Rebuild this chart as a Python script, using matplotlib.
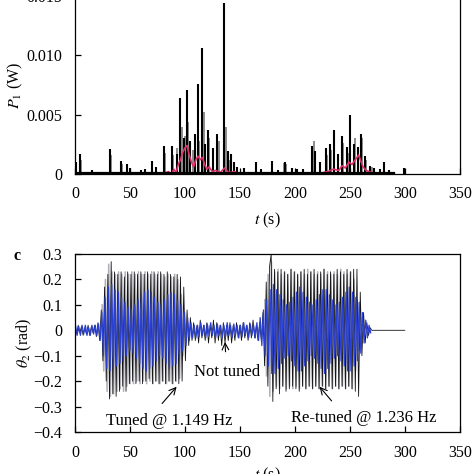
import numpy as np
import matplotlib
matplotlib.use('Agg')
import matplotlib.pyplot as plt
from matplotlib.ticker import FixedLocator, FixedFormatter

plt.rcParams['font.family'] = ['Liberation Serif', 'DejaVu Serif']
plt.rcParams['mathtext.fontset'] = 'stix'

# ---- panel b: power P1 ----
spk_t = [1, 4.5, 16, 31.8, 41.5, 47, 50, 60, 64, 69.7,
         74, 81.2, 87.9, 92.4, 96, 99, 101.5, 105, 109, 111.8,
         115.8, 118, 121.2, 125.8, 129, 135.5, 139.6, 142.4, 145, 147,
         154, 164.5, 169, 178.8, 185, 191, 197, 202, 207, 216,
         218.5, 223, 228.8, 231.8, 236, 239.4, 242.7, 247, 250.6, 253.6,
         257, 260, 263.6, 268, 272, 277, 281, 286, 299.7]
spk_h = [0.0010, 0.0017, 0.0003, 0.0021, 0.0011, 0.0008, 0.0005, 0.0003, 0.0004, 0.0011,
         0.0006, 0.0024, 0.0024, 0.0017, 0.0064, 0.0030, 0.0071, 0.0028, 0.0034, 0.0076,
         0.0106, 0.0025, 0.0037, 0.0022, 0.0034, 0.0144, 0.0019, 0.0017, 0.0010, 0.0006,
         0.0005, 0.0010, 0.0004, 0.0011, 0.0003, 0.0010, 0.0005, 0.0004, 0.0004, 0.0024,
         0.0019, 0.0010, 0.0022, 0.0025, 0.0037, 0.0017, 0.0032, 0.0023, 0.0050, 0.0025,
         0.0023, 0.0034, 0.0015, 0.0007, 0.0005, 0.0004, 0.0010, 0.0003, 0.0005]
gspk_t = [5.5, 32.5, 43, 82, 89, 93, 97, 100, 103, 107,
          113, 117, 122, 131, 137, 141, 190, 192, 217, 229,
          233, 244, 249, 255, 261, 265, 270]
gspk_h = [0.0012, 0.0016, 0.0008, 0.0018, 0.0016, 0.0022, 0.0040, 0.0032, 0.0044, 0.0020,
          0.0028, 0.0052, 0.0030, 0.0028, 0.0040, 0.0012, 0.0009, 0.0008, 0.0028, 0.0016,
          0.0020, 0.0026, 0.0018, 0.0030, 0.0030, 0.0012, 0.0006]
pink_t = [0, 80, 85, 88, 90, 92, 94, 96, 98, 100, 102, 104, 106, 108, 110, 112, 114, 116, 118, 120,
          122, 125, 128, 132, 136, 140, 145, 150, 200, 220, 230, 235, 240, 243, 246, 249, 252, 255,
          258, 260, 262, 265, 270, 280, 290]
pink_v = [0, 0, 0.0002, 0, 0.0004, 0.0001, 0.0008, 0.0012, 0.0018, 0.0022,
          0.0024, 0.0016, 0.0010, 0.0006, 0.0012, 0.0015, 0.0012, 0.0014, 0.0008, 0.0004,
          0.0006, 0.0002, 0.0003, 0.0001, 0.0005, 0.0001, 0.0002, 0, 0, 0,
          0.0002, 0.0004, 0.0003, 0.0007, 0.0005, 0.0010, 0.0008, 0.0012, 0.0016, 0.0011,
          0.0006, 0.0003, 0.0001, 0, 0]
base_t = [0, 290]
base_p = [0.0001, 0.0001]

# ---- panel c: theta2, samples every 1.5 s ----
theta_black = (
    [0.01, -0.015, 0.02, -0.01, 0.015, -0.02, 0.01, -0.015, 0.02, -0.02, 0.015, -0.01, 0.02, -0.025, 0.03]
    + [-0.04, 0.08, -0.12, 0.17, -0.2]
    + [0.22, -0.27, 0.27, -0.25, 0.23, -0.26, 0.22, -0.24, 0.23, -0.22,
       0.21, -0.24, 0.23, -0.21, 0.22, -0.2, 0.23, -0.21, 0.22, -0.2,
       0.23, -0.21, 0.22, -0.2, 0.23, -0.19, 0.22, -0.21, 0.23, -0.2,
       0.22, -0.21, 0.23, -0.2, 0.22, -0.21, 0.23, -0.2, 0.22, -0.21,
       0.21, -0.2, 0.22, -0.21, 0.21, -0.2, 0.17]
    + [-0.12, 0.08, -0.06, 0.05, -0.04]
    + [0.03, -0.04, 0.02, -0.05, 0.04, -0.03, 0.02, -0.04, 0.03, -0.05,
       0.02, -0.03, 0.04, -0.05, 0.03, -0.04, 0.02, -0.06, 0.03, -0.05,
       0.02, -0.04, 0.03, -0.05, 0.02, -0.04, 0.03, -0.03, 0.02, -0.04,
       0.03, -0.03, 0.02, -0.04, 0.03, -0.03, 0.04, -0.03, 0.02, -0.04,
       0.03, -0.04]
    + [0.07, -0.14, 0.19, -0.22, 0.25]
    + [0.30, -0.28]
    + [0.24, -0.23, 0.23, -0.25, 0.24, -0.22, 0.23, -0.24, 0.22, -0.23,
       0.24, -0.22, 0.23, -0.23, 0.22, -0.24, 0.23, -0.22, 0.24, -0.23,
       0.22, -0.22, 0.23, -0.23, 0.24, -0.22, 0.22, -0.23, 0.23, -0.22,
       0.24, -0.23, 0.22, -0.22, 0.23, -0.23, 0.22, -0.22, 0.24, -0.23,
       0.23, -0.22, 0.22, -0.23, 0.24, -0.22, 0.23, -0.23, 0.24, -0.24,
       0.24, -0.26]
    + [0.15, -0.1, 0.07, -0.05, 0.03, -0.02, 0.01]
    + [0.0] * 21
)
t_black = np.arange(len(theta_black)) * 1.5

theta_gray1 = [0.1, -0.16, 0.2, -0.24, 0.26, -0.26, 0.23, -0.25, 0.22, -0.24,
               0.23, -0.23, 0.22, -0.24, 0.23, -0.22, 0.22, -0.21, 0.23, -0.21,
               0.22, -0.2, 0.23, -0.21, 0.22, -0.2, 0.23, -0.21, 0.22, -0.2,
               0.23, -0.21, 0.22, -0.2, 0.23, -0.21, 0.22, -0.2, 0.21, -0.21,
               0.22, -0.2, 0.21, -0.21, 0.22, -0.2, 0.2, -0.19, 0.14, -0.1,
               0.07, -0.05, 0.03]
t_gray1 = 24.75 + np.arange(len(theta_gray1)) * 1.5
theta_gray2 = [0.12, -0.18, 0.22, -0.26, 0.27, -0.24, 0.23, -0.22, 0.24, -0.23,
               0.22, -0.22, 0.23, -0.23, 0.22, -0.22, 0.24, -0.23, 0.23, -0.22,
               0.22, -0.23, 0.23, -0.22, 0.22, -0.23, 0.24, -0.22, 0.23, -0.23,
               0.22, -0.22, 0.23, -0.23, 0.22, -0.22, 0.24, -0.23, 0.23, -0.22,
               0.22, -0.23, 0.23, -0.22, 0.22, -0.23, 0.24, -0.22, 0.23, -0.23,
               0.22, -0.22, 0.23, -0.23, 0.2, -0.16, 0.12, -0.08, 0.05, -0.03,
               0.02]
t_gray2 = 172.75 + np.arange(len(theta_gray2)) * 1.5

theta_blue = (
    [0.02, -0.02, 0.015, -0.02, 0.02, -0.015, 0.02, -0.02, 0.01, -0.02, 0.02, -0.015, 0.02, -0.02, 0.025]
    + [-0.04, 0.07, -0.1, 0.13, -0.15]
    + [0.17, -0.16, 0.18, -0.15, 0.16, -0.14, 0.15, -0.13, 0.13, -0.12,
       0.11, -0.1, 0.09, -0.08, 0.08, -0.09, 0.1, -0.11, 0.12, -0.13,
       0.14, -0.15, 0.15, -0.16, 0.16, -0.15, 0.15, -0.14, 0.13, -0.12,
       0.11, -0.1, 0.1, -0.11, 0.12, -0.13, 0.14, -0.15, 0.15, -0.14,
       0.14, -0.13, 0.12, -0.11, 0.1, -0.08, 0.07]
    + [-0.06, 0.05, -0.04, 0.03, -0.03]
    + [0.02, -0.03, 0.02, -0.025, 0.03, -0.02, 0.02, -0.03, 0.025, -0.02,
       0.03, -0.02, 0.02, -0.03, 0.025, -0.02, 0.02, -0.03, 0.02, -0.025,
       0.03, -0.02, 0.02, -0.03, 0.025, -0.02, 0.02, -0.03, 0.02, -0.025,
       0.03, -0.02, 0.02, -0.03, 0.025, -0.02, 0.02, -0.03, 0.03, -0.04,
       0.05, -0.06]
    + [0.08, -0.1, 0.12, -0.14, 0.16]
    + [-0.17, 0.18]
    + [-0.17, 0.16, -0.15, 0.14, -0.13, 0.12, -0.11, 0.1, -0.1, 0.11,
       -0.12, 0.13, -0.14, 0.15, -0.16, 0.17, -0.16, 0.15, -0.14, 0.13,
       -0.12, 0.11, -0.1, 0.1, -0.11, 0.12, -0.13, 0.14, -0.15, 0.16,
       -0.17, 0.16, -0.15, 0.14, -0.13, 0.12, -0.11, 0.1, -0.1, 0.11,
       -0.12, 0.13, -0.14, 0.15, -0.16, 0.17, -0.16, 0.15, -0.14, 0.13,
       -0.12, 0.11]
    + [-0.09, 0.07, -0.05, 0.04, -0.03, 0.02, -0.01]
)
t_blue = 0.5 + np.arange(len(theta_blue)) * 1.5

x_ticks = [0, 50, 100, 150, 200, 250, 300, 350]
p_ticks = [0, 0.005, 0.010, 0.015]
p_labels = ['0', '0.005', '0.010', '0.015']
th_ticks = [-0.4, -0.3, -0.2, -0.1, 0, 0.1, 0.2, 0.3]
th_labels = ['\u22120.4', '\u22120.3', '\u22120.2', '\u22120.1', '0', '0.1', '0.2', '0.3']

fig = plt.figure(figsize=(4.74, 4.74), dpi=100)
ax1 = fig.add_axes([0.158, 0.633, 0.812, 0.375])
ax2 = fig.add_axes([0.158, 0.0886, 0.812, 0.3755])

# panel b
ax1.vlines(gspk_t, 0, gspk_h, color='#8c8c8c', lw=1.4)
ax1.vlines(spk_t, 0, spk_h, color='black', lw=1.5)
ax1.plot(pink_t, pink_v, color='#e0306a', lw=1.2)
ax1.plot(base_t, base_p, color='black', lw=1.6)
ax1.set_xlim(0, 350)
ax1.set_ylim(0, 0.015)
ax1.xaxis.set_major_locator(FixedLocator(x_ticks))
ax1.yaxis.set_major_locator(FixedLocator(p_ticks))
ax1.yaxis.set_major_formatter(FixedFormatter(p_labels))
ax1.set_xlabel('$t$ (s)', fontsize=11.5, labelpad=6)
ax1.set_ylabel('$P_1$ (W)', fontsize=11.5, labelpad=1)

# panel c
ax2.plot(t_gray1, theta_gray1, color='#b0b0b8', lw=1.1)
ax2.plot(t_gray2, theta_gray2, color='#b0b0b8', lw=1.1)
ax2.plot(t_black, theta_black, color='#151515', lw=0.6)
ax2.plot(t_blue, theta_blue, color='#2a40d2', lw=0.9)
ax2.set_xlim(0, 350)
ax2.set_ylim(-0.4, 0.3)
ax2.xaxis.set_major_locator(FixedLocator(x_ticks))
ax2.yaxis.set_major_locator(FixedLocator(th_ticks))
ax2.yaxis.set_major_formatter(FixedFormatter(th_labels))
ax2.set_xlabel('$t$ (s)', fontsize=11.5, labelpad=4)
ax2.set_ylabel('$\\theta_2$ (rad)', fontsize=11.5, labelpad=0)

ax2.annotate('Not tuned', xy=(136.5, -0.046), xytext=(138, -0.165),
             ha='center', va='center', fontsize=12,
             arrowprops=dict(arrowstyle='->', color='black', lw=0.8, shrinkA=7, shrinkB=0))
ax2.annotate('Tuned @ 1.149 Hz', xy=(92.5, -0.222), xytext=(86, -0.355),
             ha='center', va='center', fontsize=12,
             arrowprops=dict(arrowstyle='->', color='black', lw=0.8, shrinkA=6, shrinkB=0,
                             relpos=(0.38, 1.0)))
ax2.annotate('Re-tuned @ 1.236 Hz', xy=(222.5, -0.222), xytext=(263, -0.345),
             ha='center', va='center', fontsize=12,
             arrowprops=dict(arrowstyle='->', color='black', lw=0.8, shrinkA=6, shrinkB=0,
                             relpos=(0.33, 1.0)))

for ax in (ax1, ax2):
    ax.tick_params(direction='in', length=4, width=0.9, labelsize=11.5)
    ax.tick_params(axis='x', pad=9)
    ax.tick_params(axis='y', pad=9)
    for s in ax.spines.values():
        s.set_linewidth(0.9)

fig.text(0.028, 0.46, 'c', fontsize=11.5, fontweight='bold', ha='left', va='center')

fig.savefig('out.png', dpi=100)
